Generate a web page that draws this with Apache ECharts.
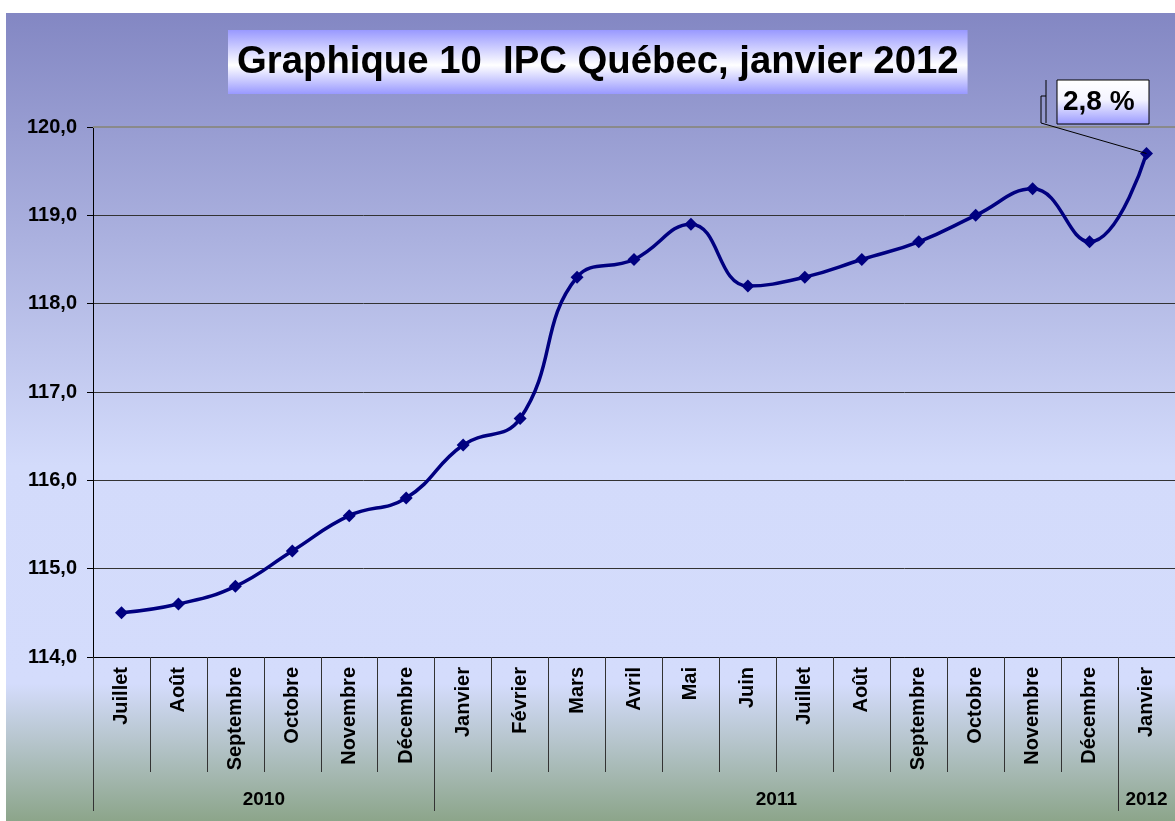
<!DOCTYPE html>
<html>
<head>
<meta charset="utf-8">
<script src="https://cdn.jsdelivr.net/npm/echarts@6/dist/echarts.min.js"></script>
<style>
  html, body { margin: 0; padding: 0; background: #ffffff; }
  #chart {
    position: absolute; left: 6px; top: 13px; width: 1169px; height: 808px;
    background: linear-gradient(to bottom, #8387c3 0%, #d3dbfb 56%, #d4dcfc 83%, #8ca58a 100%);
  }
</style>
</head>
<body>
<div id="chart"></div>
<script>
const titleText = 'Graphique 10  IPC Québec, janvier 2012';
const months = ['Juillet', 'Août', 'Septembre', 'Octobre', 'Novembre', 'Décembre',
  'Janvier', 'Février', 'Mars', 'Avril', 'Mai', 'Juin', 'Juillet', 'Août',
  'Septembre', 'Octobre', 'Novembre', 'Décembre', 'Janvier'];
const years = ['2010', '2011', '2012'];
const yearSpans = [6, 12, 1];
const ipc = [114.5, 114.6, 114.8, 115.2, 115.6, 115.8, 116.4, 116.7, 118.3, 118.5,
  118.9, 118.2, 118.3, 118.5, 118.7, 119.0, 119.3, 118.7, 119.7];
const yTicks = [114, 115, 116, 117, 118, 119, 120];
const annotationText = '2,8 %';

const font = '"Liberation Sans", Arial, sans-serif';

// year boundaries and centres (in category units)
const yearBounds = [0];
yearSpans.forEach(s => yearBounds.push(yearBounds[yearBounds.length - 1] + s));
const yearCenters = yearSpans.map((s, i) => yearBounds[i] + s / 2);

const chart = echarts.init(document.getElementById('chart'), null, { renderer: 'canvas' });

const grad = (stops) => new echarts.graphic.LinearGradient(0, 0, 0, 1, stops);

chart.setOption({
  backgroundColor: 'transparent',
  animation: false,
  title: {
    text: titleText,
    left: 222, top: 17,
    padding: [10, 9],
    backgroundColor: grad([
      { offset: 0, color: '#9999ff' },
      { offset: 0.55, color: '#ffffff' },
      { offset: 1, color: '#9999ff' }
    ]),
    textStyle: { fontFamily: font, fontSize: 38.3, fontWeight: 'bold', color: '#000', lineHeight: 44 }
  },
  grid: { left: 87, right: 0, top: 114, bottom: 164, containLabel: false },
  xAxis: [
    {
      type: 'category',
      data: months,
      boundaryGap: true,
      axisLine: { show: true, lineStyle: { color: '#000', width: 1 } },
      axisTick: { show: true, length: 115, lineStyle: { color: '#333', width: 1 } },
      axisLabel: {
        rotate: 90, margin: 10, interval: 0,
        fontFamily: font, fontSize: 20, fontWeight: 'bold', color: '#000'
      },
      splitLine: { show: false }
    },
    {
      type: 'value',
      position: 'bottom',
      min: 0, max: months.length,
      axisLine: { show: false },
      axisTick: { show: true, length: 154, customValues: yearBounds.slice(0, -1), lineStyle: { color: '#333', width: 1 } },
      axisLabel: {
        show: true, margin: 133, customValues: yearCenters,
        formatter: (v) => { const i = yearCenters.indexOf(v); return i >= 0 ? years[i] : ''; },
        fontFamily: font, fontSize: 19, fontWeight: 'bold', color: '#000'
      },
      splitLine: { show: false }
    }
  ],
  yAxis: {
    type: 'value',
    min: yTicks[0], max: yTicks[yTicks.length - 1], interval: 1,
    axisLine: { show: true, lineStyle: { color: '#000', width: 1 } },
    axisTick: { show: true, length: 6, lineStyle: { color: '#000' } },
    axisLabel: {
      margin: 16,
      formatter: (v) => v.toFixed(1).replace('.', ','),
      fontFamily: font, fontSize: 20, fontWeight: 'bold', color: '#000'
    },
    splitLine: {
      show: true,
      lineStyle: { color: ['#333', '#333', '#333', '#333', '#333', '#333', 'transparent'], width: 1 }
    }
  },
  series: [{
    type: 'line',
    data: ipc,
    xAxisIndex: 0,
    smooth: 0.45,
    symbol: 'diamond',
    symbolSize: 13,
    lineStyle: { color: '#000080', width: 3.5 },
    itemStyle: { color: '#000080' },
    markLine: {
      silent: true, symbol: 'none', label: { show: false },
      lineStyle: { color: '#8a8a8a', width: 2, type: 'solid' },
      data: [{ yAxis: yTicks[yTicks.length - 1] }]
    },
    z: 5
  }]
});

// annotation box with leader line to the last point
const last = ipc.length - 1;
const pt = chart.convertToPixel({ xAxisIndex: 0, yAxisIndex: 0 }, [last, ipc[last]]);
const bx = 1051, by = 67, bw = 92, bh = 44;
chart.setOption({
  graphic: [
    {
      type: 'rect', z: 10,
      shape: { x: bx, y: by, width: bw, height: bh },
      style: {
        fill: grad([
          { offset: 0, color: '#ffffff' },
          { offset: 0.45, color: '#f4f4ff' },
          { offset: 1, color: '#9999ff' }
        ]),
        stroke: '#000', lineWidth: 1
      }
    },
    {
      type: 'text', z: 11,
      style: {
        text: annotationText, x: bx + 6, y: by + bh / 2,
        verticalAlign: 'middle', align: 'left',
        font: 'bold 28px ' + font, fill: '#000'
      }
    },
    {
      type: 'polyline', z: 10,
      shape: { points: [[bx - 11, by], [bx - 11, by + bh - 1]] },
      style: { stroke: '#000', lineWidth: 1, fill: null }
    },
    {
      type: 'polyline', z: 10,
      shape: { points: [[bx - 11, by + 16], [bx - 16, by + 16], [bx - 16, by + bh - 1], pt] },
      style: { stroke: '#000', lineWidth: 1, fill: null }
    }
  ]
});
</script>
</body>
</html>
